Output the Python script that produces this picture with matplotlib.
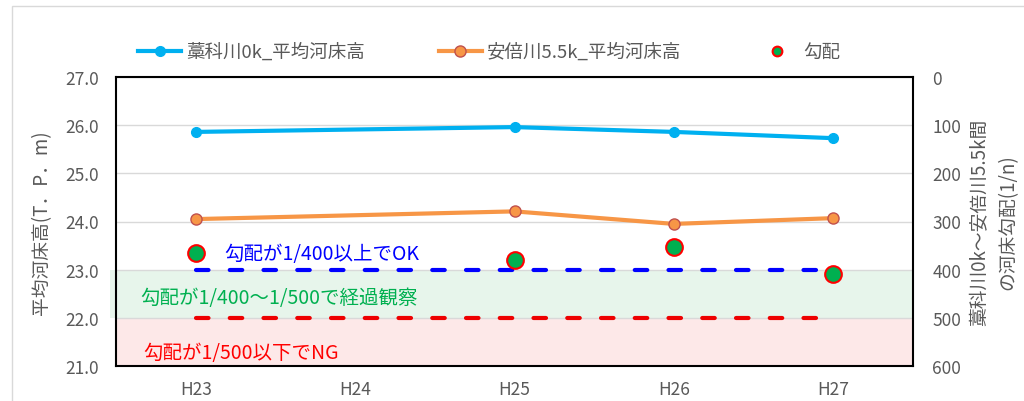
import numpy as np
import matplotlib.pyplot as plt
from matplotlib.patches import Rectangle

plt.rcParams['font.family'] = ['Noto Sans CJK JP', 'DejaVu Sans']

years = ['H23', 'H24', 'H25', 'H26', 'H27']
# H24 has no survey, so it is left out of the series
warashina = [25.86, np.nan, 25.96, 25.86, 25.73]
abe = [24.05, np.nan, 24.21, 23.95, 24.07]
slope = [366, np.nan, 380, 352, 408]
ok_limit = 400
ng_limit = 500

x = np.arange(len(years))
wa = np.array(warashina)
ab = np.array(abe)
sl = np.array(slope)

fig = plt.figure(figsize=(10.24, 4.02), dpi=100)
fig.patches.append(Rectangle((12 / 1024, -0.1), 1.2, 395 / 402 + 0.1,
                             transform=fig.transFigure, fill=False,
                             edgecolor='#d9d9d9', linewidth=1))
ax = fig.add_axes([116 / 1024, 35 / 402, 797 / 1024, 289 / 402])
ax2 = ax.twinx()

grey = '#595959'

# left axis: mean bed height
ax.set_xlim(-0.5, len(years) - 0.5)
ax.set_ylim(21, 27)
ax.set_yticks(np.arange(21, 27.1, 1))
ax.set_yticklabels([f'{v:.1f}' for v in np.arange(21, 27.1, 1)])
ax.set_xticks(x)
ax.set_xticklabels(years)
ax.tick_params(length=0, colors=grey, labelsize=12.5, pad=12)
ax.tick_params(axis='x', pad=10)
for s in ax.spines.values():
    s.set_color('black')
    s.set_linewidth(1.5)
ax.set_ylabel('平均河床高(T．P．m)', color=grey, fontsize=13.5, labelpad=10)

# right axis: slope 1/n, inverted
ax2.set_ylim(600, 0)
ax2.set_yticks(np.arange(0, 601, 100))
ax2.grid(axis='y', color='#d9d9d9', linewidth=1, zorder=0)
ax2.tick_params(length=0, colors=grey, labelsize=12.5, pad=14)
ax2.set_ylabel('藁科川0k～安倍川5.5k間\nの河床勾配(1/n)', color=grey, fontsize=13.5,
               rotation=90, labelpad=6, linespacing=1.4)
for s in ax2.spines.values():
    s.set_visible(False)

# judgement bands
ax2.add_patch(Rectangle((-0.008, ok_limit), 1.008, ng_limit - ok_limit,
                        transform=ax2.get_yaxis_transform(), facecolor='#e7f5eb',
                        edgecolor='none', clip_on=False, zorder=0.5))
ax2.add_patch(Rectangle((0, ng_limit), 1, 600 - ng_limit,
                        transform=ax2.get_yaxis_transform(), facecolor='#fde8e8',
                        edgecolor='none', zorder=0.5))

ax2.plot([x[0], x[-1]], [ok_limit, ok_limit], color='#0000ff', lw=3,
         dashes=(3.0, 5.1), dash_capstyle='round', zorder=2)
ax2.plot([x[0], x[-1]], [ng_limit, ng_limit], color='#ee0000', lw=3,
         dashes=(3.0, 5.1), dash_capstyle='round', zorder=2)

ax2.text(0.178, 367, '勾配が1/400以上でOK', color='#0000ff', fontsize=14,
         va='center', ha='left')
ax2.text(-0.349, 457, '勾配が1/400～1/500で経過観察', color='#00b050', fontsize=14,
         va='center', ha='left')
ax2.text(-0.33, 571, '勾配が1/500以下でNG', color='#ff0000', fontsize=14,
         va='center', ha='left')

m = ~np.isnan(wa)
l1, = ax.plot(x[m], wa[m], color='#00b0f0', lw=3, marker='o', ms=7,
              mfc='#00b0f0', mec='#00b0f0', zorder=3,
              label='藁科川0k_平均河床高')
m = ~np.isnan(ab)
l2, = ax.plot(x[m], ab[m], color='#f79646', lw=3, marker='o', ms=8,
              mfc='#f79646', mec='#c0504d', mew=1, zorder=3,
              label='安倍川5.5k_平均河床高')
m = ~np.isnan(sl)
l3, = ax2.plot(x[m], sl[m], ls='none', marker='o', ms=12, mfc='#00b050',
               mec='#ff0000', mew=1.5, zorder=4, label='勾配')

ax.set_zorder(ax2.get_zorder() + 1)
ax.patch.set_visible(False)

leg = fig.legend(handles=[l1, l2, l3], loc='center', ncol=3,
                 bbox_to_anchor=(0.478, 0.868), frameon=False, fontsize=13.3,
                 columnspacing=4.0, handlelength=2.3, handletextpad=0.3,
                 labelcolor=grey)
leg.legend_handles[2].set_markersize(7)

fig.savefig('out.png', dpi=100)
